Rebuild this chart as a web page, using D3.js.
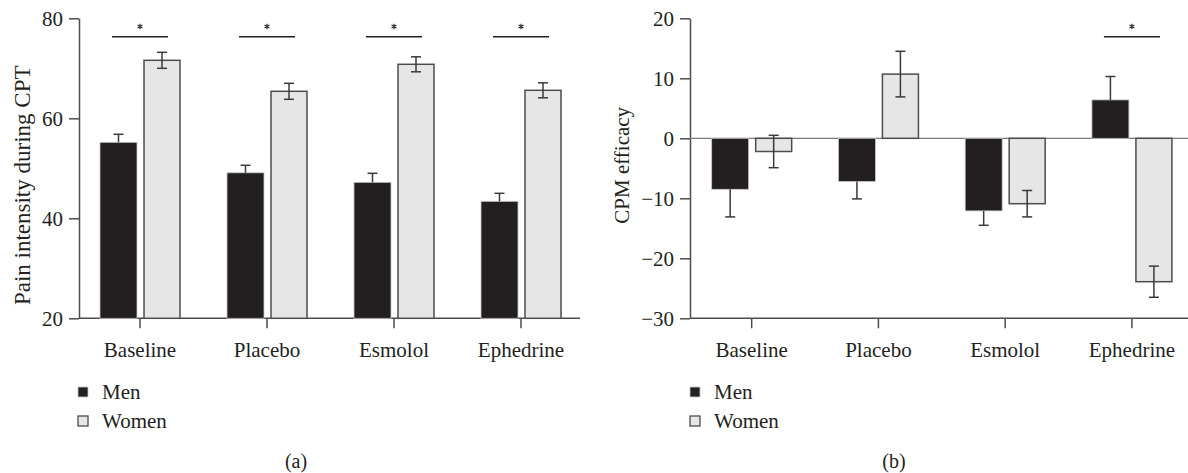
<!DOCTYPE html>
<html><head><meta charset="utf-8">
<script src="https://cdn.jsdelivr.net/npm/d3@7"></script>
<style>
body{margin:0;background:#fff;}
svg text{font-family:"Liberation Serif","Times New Roman",serif !important;fill:#231f20;}
</style></head>
<body>
<svg id="chart" width="1188" height="473"></svg>
<script>
const categories = ["Baseline","Placebo","Esmolol","Ephedrine"];
const seriesNames = ["Men","Women"];
// Panel (a): Pain intensity during CPT
const painMen = [55.2, 49.1, 47.2, 43.4];
const painMenErr = [1.6, 1.5, 1.8, 1.6];
const painWomen = [71.6, 65.4, 70.8, 65.6];
const painWomenErr = [1.6, 1.6, 1.5, 1.5];
const painTicks = [20, 40, 60, 80];
const painSig = [true, true, true, true];
// Panel (b): CPM efficacy
const cpmMen = [-8.5, -7.2, -12.1, 6.4];
const cpmMenErr = [4.6, 2.9, 2.4, 3.9];
const cpmWomen = [-2.2, 10.7, -10.9, -23.9];
const cpmWomenErr = [2.7, 3.8, 2.2, 2.6];
const cpmTicks = [-30, -20, -10, 0, 10, 20];
const cpmSig = [false, false, false, true];

const svg = d3.select("#chart");
const FONT = "'Liberation Serif', 'Times New Roman', serif";
const menFill = "#231f20", womenFill = "#e6e6e6", axisCol = "#4d4d4d";

function panel(o){
  const g = svg.append("g");
  const y = d3.scaleLinear().domain(o.domain).range([318.3, 18.3]);
  const x = d3.scaleBand().domain(categories).range(o.xRange).padding(0);
  const cx = d => x(d) + x.bandwidth()/2;

  // y axis
  const ya = g.append("g").attr("transform", `translate(${o.axisX},0)`)
    .call(d3.axisLeft(y).tickValues(o.ticks).tickSize(10).tickPadding(6).tickSizeOuter(0));
  ya.attr("font-family", null).attr("font-size", null);
  ya.select(".domain").attr("stroke", axisCol).attr("stroke-width", 1.5);
  ya.selectAll(".tick line").attr("stroke", axisCol).attr("stroke-width", 1.5);
  ya.selectAll(".tick text").style("font-size", "21px").style("font-family", FONT).attr("fill", "#231f20");

  // zero line (panel b)
  if (o.domain[0] < 0) {
    g.append("line").attr("x1", o.axisX).attr("x2", o.xEnd).attr("y1", y(0)).attr("y2", y(0))
      .attr("stroke", "#7a7a7a").attr("stroke-width", 1.2);
  }

  // x axis
  const xa = g.append("g").attr("transform", `translate(0,${y(o.domain[0])})`)
    .call(d3.axisBottom(x).tickSize(10).tickPadding(14).tickSizeOuter(0));
  xa.attr("font-family", null).attr("font-size", null);
  xa.select(".domain").remove();
  xa.selectAll(".tick line").attr("stroke", axisCol).attr("stroke-width", 1.5);
  xa.selectAll(".tick text").style("font-size", "21px").style("font-family", FONT).attr("fill", "#231f20");
  g.append("line").attr("x1", o.axisX).attr("x2", o.xEnd)
    .attr("y1", y(o.domain[0])).attr("y2", y(o.domain[0]))
    .attr("stroke", axisCol).attr("stroke-width", 1.5);

  // y label
  g.append("text").attr("transform", `translate(${o.labelX},${(y.range()[0]+y.range()[1])/2 + o.labelDy}) rotate(-90)`)
    .attr("text-anchor", "middle").attr("dominant-baseline", "central")
    .style("font-size", o.labelSize + "px").style("font-family", FONT).text(o.ylabel);

  const base = o.domain[0] < 0 ? 0 : o.domain[0];
  const data = categories.map((c, i) => ({c, i, m: o.men[i], me: o.menErr[i], w: o.women[i], we: o.womenErr[i], sig: o.sig[i]}));

  // men bars
  g.selectAll(".men").data(data).join("rect")
    .attr("x", d => cx(d.c) - 40).attr("width", 37)
    .attr("y", d => y(Math.max(d.m, base))).attr("height", d => Math.abs(y(d.m) - y(base)))
    .attr("fill", menFill).attr("stroke", "#c8c8c8").attr("stroke-width", 0.8);
  // women bars
  g.selectAll(".women").data(data).join("rect")
    .attr("x", d => cx(d.c) + 4).attr("width", 36)
    .attr("y", d => y(Math.max(d.w, base))).attr("height", d => Math.abs(y(d.w) - y(base)))
    .attr("fill", womenFill).attr("stroke", axisCol).attr("stroke-width", 1.5);

  // error bars: men outward only
  data.forEach(d => {
    const mx = cx(d.c) - 21.5;
    const mEnd = d.m + Math.sign(d.m - base || 1) * d.me;
    g.append("line").attr("x1", mx).attr("x2", mx).attr("y1", y(d.m)).attr("y2", y(mEnd))
      .attr("stroke", "#3a3a3a").attr("stroke-width", 1.5);
    g.append("line").attr("x1", mx - 5).attr("x2", mx + 5).attr("y1", y(mEnd)).attr("y2", y(mEnd))
      .attr("stroke", "#3a3a3a").attr("stroke-width", 1.5);
    const wx = cx(d.c) + 22;
    g.append("line").attr("x1", wx).attr("x2", wx).attr("y1", y(d.w - d.we)).attr("y2", y(d.w + d.we))
      .attr("stroke", "#3a3a3a").attr("stroke-width", 1.5);
    [d.w - d.we, d.w + d.we].forEach(v => {
      g.append("line").attr("x1", wx - 5).attr("x2", wx + 5).attr("y1", y(v)).attr("y2", y(v))
        .attr("stroke", "#3a3a3a").attr("stroke-width", 1.5);
    });
  });

  // significance markers
  const sd = data.filter(d => d.sig);
  g.selectAll(".sigl").data(sd).join("line")
    .attr("x1", d => cx(d.c) - 28).attr("x2", d => cx(d.c) + 28)
    .attr("y1", 36.8).attr("y2", 36.8).attr("stroke", "#231f20").attr("stroke-width", 1.6);
  g.selectAll(".sigt").data(sd).join("path")
    .attr("transform", d => `translate(${cx(d.c)},26.5)`)
    .attr("d", d3.symbol(d3.symbolAsterisk, 22))
    .attr("fill", "none").attr("stroke", "#231f20").attr("stroke-width", 1.1);

  // legend
  const lg = g.append("g");
  seriesNames.forEach((s, i) => {
    const yy = 392 + i * 29;
    lg.append("rect").attr("x", o.legX).attr("y", yy - 5).attr("width", 10).attr("height", 10)
      .attr("fill", i === 0 ? menFill : womenFill)
      .attr("stroke", i === 0 ? "#c8c8c8" : axisCol).attr("stroke-width", i === 0 ? 0.8 : 1.3);
    lg.append("text").attr("x", o.legX + 24).attr("y", yy).attr("dominant-baseline", "central")
      .style("font-size", "21px").style("font-family", FONT).text(s);
  });

  // panel letter
  g.append("text").attr("x", o.letterX).attr("y", 461).attr("text-anchor", "middle")
    .attr("dominant-baseline", "central").style("font-size", "20px").style("font-family", FONT).text(o.letter);
}

panel({domain: [20, 80], ticks: painTicks, men: painMen, menErr: painMenErr, women: painWomen, womenErr: painWomenErr,
  sig: painSig, axisX: 79, xRange: [76.5, 584.5], xEnd: 580, labelX: 22, labelDy: 17, labelSize: 23, ylabel: "Pain intensity during CPT",
  legX: 78, letter: "(a)", letterX: 296});
panel({domain: [-30, 20], ticks: cpmTicks, men: cpmMen, menErr: cpmMenErr, women: cpmWomen, womenErr: cpmWomenErr,
  sig: cpmSig, axisX: 690, xRange: [688.3, 1195.3], xEnd: 1188, labelX: 622, labelDy: -3, labelSize: 21, ylabel: "CPM efficacy",
  legX: 690, letter: "(b)", letterX: 894});
</script>
</body></html>
